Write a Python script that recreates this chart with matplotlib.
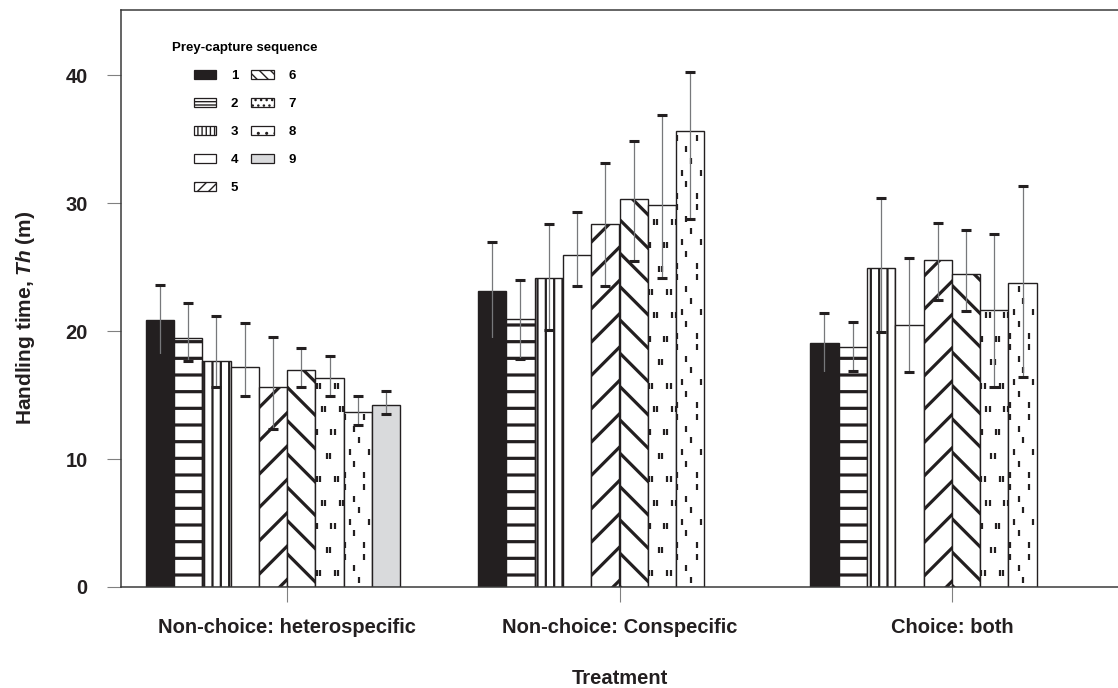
"""Grouped bar chart: handling time by prey-capture sequence and treatment."""
import matplotlib
matplotlib.use("Agg")
import matplotlib.pyplot as plt
import numpy as np
from matplotlib.patches import Patch

plt.rcParams["font.family"] = ["Liberation Sans", "DejaVu Sans"]
plt.rcParams["font.weight"] = "bold"
plt.rcParams["axes.labelweight"] = "bold"
plt.rcParams["mathtext.fontset"] = "custom"
plt.rcParams["mathtext.rm"] = "Liberation Sans:bold"
plt.rcParams["mathtext.it"] = "Liberation Sans:italic:bold"

# --- data ---
treatments = ["Non-choice: heterospecific", "Non-choice: Conspecific", "Choice: both"]
sequence = ["1", "2", "3", "4", "5", "6", "7", "8", "9"]

hetero_mean = [20.85, 19.47, 17.64, 17.20, 15.63, 16.99, 16.30, 13.67, 14.19]
hetero_low = [18.10, 17.70, 15.63, 14.95, 12.37, 15.60, 14.90, 12.68, 13.52]
hetero_high = [23.59, 22.20, 21.16, 20.64, 19.55, 18.68, 18.06, 14.93, 15.29]

con_mean = [23.17, 20.95, 24.16, 25.93, 28.41, 30.35, 29.88, 35.62]
con_low = [19.40, 17.82, 20.07, 23.51, 23.51, 25.50, 24.16, 28.77]
con_high = [26.95, 23.98, 28.40, 29.28, 33.14, 34.89, 36.87, 40.26]

choice_mean = [19.07, 18.73, 24.97, 20.51, 25.57, 24.50, 21.68, 23.74]
choice_low = [16.70, 16.91, 19.91, 16.78, 22.41, 21.60, 15.60, 16.38]
choice_high = [21.42, 20.72, 30.37, 25.73, 28.47, 27.89, 27.58, 31.31]

groups = [
    (hetero_mean, hetero_low, hetero_high),
    (con_mean, con_low, con_high),
    (choice_mean, choice_low, choice_high),
]

# --- styles ---
DARK = "#231f20"
STYLES = [
    dict(facecolor=DARK, hatch=None, dashes=None),
    dict(facecolor="white", hatch="-", dashes=None),
    dict(facecolor="white", hatch="||", dashes=None),
    dict(facecolor="white", hatch=None, dashes=None),
    dict(facecolor="white", hatch="/", dashes=None),
    dict(facecolor="white", hatch="\\", dashes=None),
    dict(facecolor="white", hatch=None, dashes="pairs"),
    dict(facecolor="white", hatch=None, dashes="single"),
    dict(facecolor="#d9dadc", hatch=None, dashes=None),
]
LEGEND_HATCH = [None, "-----", "||||", None, "///", "\\\\\\", "...", "..", None]

# row pitch (data units) and fractional x positions within a bar, cycled by row
DASH_ROWS = {
    "pairs": (1.83, [[0.10, 0.75], [0.45], [0.0, 0.62], [0.28, 0.92]]),
    "single": (0.91, [[0.53], [0.36], [0.04, 0.72], [0.04, 0.72], [0.36], [0.21, 0.88]]),
}

BAR_W = 0.0852


def add_dashes(ax, bar, kind):
    """Fill a bar with short vertical dashes (stippled pattern)."""
    pitch, rows = DASH_ROWS[kind]
    x0, w, h = bar.get_x(), bar.get_width(), bar.get_height()
    xs, ys = [], []
    for k, y in enumerate(np.arange(pitch * 0.6, h, pitch)):
        for f in rows[k % len(rows)]:
            if kind == "pairs":
                xs += [x0 + (f - 0.06) * w, x0 + (f + 0.06) * w]
                ys += [y, y]
            else:
                xs.append(x0 + f * w)
                ys.append(y)
    sc = ax.scatter(xs, ys, marker="|", s=16, linewidths=1.6, color=DARK, zorder=2.5)
    sc.set_clip_path(bar)


fig = plt.figure(figsize=(11.18, 6.88), dpi=100)
ax = fig.add_axes([121 / 1118, 101 / 688, 997 / 1118, 577 / 688])

for g, (mean, low, high) in enumerate(groups):
    for i, m in enumerate(mean):
        st = STYLES[i]
        x = g + (i - 4.5) * BAR_W
        bar = ax.bar(x, m, width=BAR_W, facecolor=st["facecolor"], edgecolor=DARK,
                     linewidth=1.0, hatch=st["hatch"], zorder=2)[0]
        if hasattr(bar, "set_hatch_linewidth"):
            bar.set_hatch_linewidth(1.6 if st["hatch"] == "||" else 2.3)
        if st["dashes"]:
            add_dashes(ax, bar, st["dashes"])
        eb = ax.errorbar(x, m, yerr=[[m - low[i]], [high[i] - m]], fmt="none", ecolor="#77787b",
                         elinewidth=0.9, capsize=3.9, capthick=2.2, zorder=3)
        for cap in eb[1]:
            cap.set_color(DARK)
            cap.set_markeredgecolor(DARK)

ax.set_xlim(-0.5, 2.5)
ax.set_ylim(0, 45.1)
ax.set_xticks(range(len(treatments)))
ax.set_xticklabels(treatments)
ax.set_yticks([0, 10, 20, 30, 40])

ax.tick_params(axis="y", length=10, width=0.8, color="#808080", pad=14, labelsize=14.5, labelcolor=DARK)
ax.tick_params(axis="x", length=11, width=0.8, color="#808080", pad=11, labelsize=14.5, labelcolor=DARK)
for side in ["left", "top", "bottom"]:
    ax.spines[side].set_color("#3a3a3a")
    ax.spines[side].set_linewidth(1.1)
ax.spines["right"].set_visible(False)

ax.set_ylabel(r"Handling time, $\mathit{Th}$ (m)", fontsize=15, fontweight="bold", color=DARK)
ax.yaxis.set_label_coords(-0.084, 0.467)
ax.set_xlabel("Treatment", fontsize=14.5, fontweight="bold", color=DARK)
ax.xaxis.set_label_coords(0.5, -0.142)

# --- legend ---
handles = []
for i, st in enumerate(STYLES):
    h = Patch(facecolor=st["facecolor"], edgecolor=DARK, linewidth=0.9, hatch=LEGEND_HATCH[i])
    if hasattr(h, "set_hatch_linewidth"):
        h.set_hatch_linewidth(1.0)
    handles.append(h)
leg = fig.legend(handles, sequence, ncol=2, loc="upper left",
                 bbox_to_anchor=(172 / 1118, 1 - 42 / 688), bbox_transform=fig.transFigure,
                 frameon=False, borderpad=0, borderaxespad=0,
                 prop={"weight": "bold", "size": 9.5},
                 title="Prey-capture sequence", title_fontproperties={"weight": "bold", "size": 9.5},
                 handlelength=1.74, handleheight=0.76, handletextpad=1.1,
                 columnspacing=0.95, labelspacing=1.18)

fig.savefig("out.png", dpi=100)
plt.close(fig)
